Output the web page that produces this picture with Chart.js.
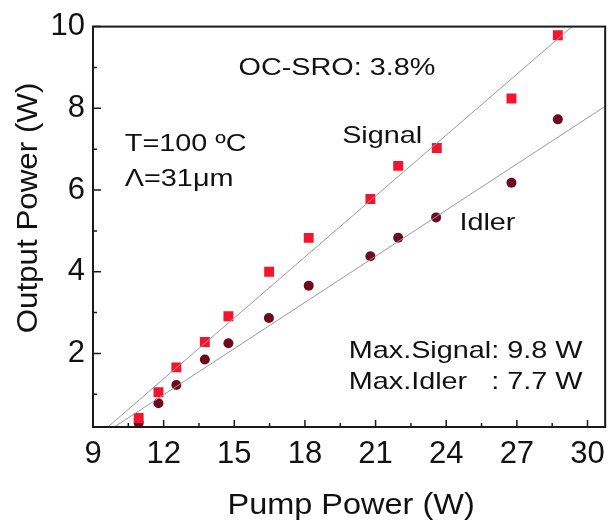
<!DOCTYPE html>
<html>
<head>
<meta charset="utf-8">
<script src="https://cdn.jsdelivr.net/npm/chart.js@4"></script>
<style>
  html, body { margin: 0; padding: 0; background: #fff; }
  #wrap { width: 614px; height: 528px; }
</style>
</head>
<body>
<div id="wrap"><canvas id="c" width="614" height="528"></canvas></div>
<script>
// values
const signalPump  = [10.94, 11.78, 12.54, 13.75, 14.75, 16.48, 18.16, 20.78, 21.96, 23.6, 26.77, 28.74];
const signalPower = [0.42, 1.05, 1.66, 2.28, 2.91, 4.0, 4.83, 5.78, 6.59, 7.03, 8.24, 9.79];
const idlerPump   = [10.94, 11.78, 12.54, 13.75, 14.75, 16.47, 18.16, 20.78, 21.96, 23.57, 26.77, 28.74];
const idlerPower  = [0.3, 0.78, 1.23, 1.85, 2.25, 2.87, 3.66, 4.38, 4.83, 5.33, 6.18, 7.73];

// linear fits (end points)
const signalFitPump  = [9.65, 29.34];
const signalFitPower = [0.21, 10];
const idlerFitPump   = [9.93, 30.75];
const idlerFitPower  = [0.21, 8.05];

const xTicks = [9, 10.5, 12, 13.5, 15, 16.5, 18, 19.5, 21, 22.5, 24, 25.5, 27, 28.5, 30];
const yTicks = [1, 2, 3, 4, 5, 6, 7, 8, 9, 10];

const xTitle = 'Pump Power (W)';
const yTitle = 'Output Power (W)';

const notes = [
  { text: 'OC-SRO: 3.8%', x: 19.36, y: 8.82, align: 'center' },
  { text: 'Signal', x: 21.28, y: 7.15, align: 'center' },
  { text: 'Idler', x: 25.75, y: 5.01, align: 'center' },
  { text: 'T=100 ºC', x: 10.35, y: 6.95, align: 'left' },
  { text: 'Λ=31μm', x: 10.35, y: 6.1, align: 'left' },
  { text: 'Max.Signal: 9.8 W', x: 19.86, y: 1.9, align: 'left' },
  { text: 'Max.Idler   : 7.7 W', x: 19.86, y: 1.14, align: 'left' }
];

const FONT = "'Liberation Sans', Arial, sans-serif";

function pts(xs, ys) {
  return xs.map((x, i) => ({ x: x, y: ys[i] }));
}

function stretchText(ctx, text, x, y, align, sx) {
  ctx.save();
  ctx.translate(x, y);
  ctx.scale(sx, 1);
  ctx.textAlign = align;
  ctx.fillText(text, 0, 0);
  ctx.restore();
}

const framePlugin = {
  id: 'frame',
  afterDraw(chart) {
    const ctx = chart.ctx;
    const a = chart.chartArea;
    const xs = chart.scales.x, ys = chart.scales.y;
    ctx.save();
    ctx.strokeStyle = '#1a1a1a';
    ctx.lineWidth = 1.5;
    ctx.beginPath();
    xs.ticks.forEach(t => {
      const px = xs.getPixelForValue(t.value);
      const len = t.value % 3 === 0 ? 7 : 4;
      ctx.moveTo(px, a.bottom);
      ctx.lineTo(px, a.bottom - len);
    });
    ys.ticks.forEach(t => {
      const py = ys.getPixelForValue(t.value);
      const len = t.value % 2 === 0 ? 8 : 4;
      ctx.moveTo(a.left, py);
      ctx.lineTo(a.left + len, py);
    });
    ctx.stroke();
    ctx.lineWidth = 2;
    ctx.strokeRect(a.left, a.top, a.right - a.left, a.bottom - a.top);

    ctx.fillStyle = '#111';
    ctx.textBaseline = 'alphabetic';

    // axis titles
    ctx.font = '29px ' + FONT;
    stretchText(ctx, xTitle, (a.left + a.right) / 2 + 2, 514, 'center', 1.12);
    ctx.save();
    ctx.translate(37, 208);
    ctx.rotate(-Math.PI / 2);
    stretchText(ctx, yTitle, 0, 0, 'center', 1.08);
    ctx.restore();

    // text notes
    ctx.font = '24px ' + FONT;
    notes.forEach(n => {
      stretchText(ctx, n.text, xs.getPixelForValue(n.x), ys.getPixelForValue(n.y), n.align, 1.2);
    });
    ctx.restore();
  }
};

new Chart(document.getElementById('c').getContext('2d'), {
  type: 'scatter',
  data: {
    datasets: [
      {
        label: 'Signal fit',
        type: 'line',
        data: pts(signalFitPump, signalFitPower),
        borderColor: '#9a9a9a',
        borderWidth: 1,
        pointRadius: 0,
        fill: false
      },
      {
        label: 'Idler fit',
        type: 'line',
        data: pts(idlerFitPump, idlerFitPower),
        borderColor: '#9a9a9a',
        borderWidth: 1,
        pointRadius: 0,
        fill: false
      },
      {
        label: 'Signal',
        data: pts(signalPump, signalPower),
        pointStyle: 'rect',
        pointRadius: 7,
        backgroundColor: '#f5132d',
        borderColor: '#f5132d',
        borderWidth: 0
      },
      {
        label: 'Idler',
        data: pts(idlerPump, idlerPower),
        pointStyle: 'circle',
        pointRadius: 5,
        backgroundColor: '#6e0a1c',
        borderColor: '#6e0a1c',
        borderWidth: 0
      }
    ]
  },
  options: {
    responsive: false,
    animation: false,
    layout: { padding: { top: 22, right: 2, left: 0, bottom: 0 } },
    plugins: { legend: { display: false }, tooltip: { enabled: false } },
    scales: {
      x: {
        type: 'linear',
        min: 9,
        max: 30.75,
        afterBuildTicks: s => { s.ticks = xTicks.map(v => ({ value: v })); },
        afterFit: s => { s.height = 101; },
        grid: { display: false, drawTicks: false },
        border: { display: false },
        ticks: {
          autoSkip: false,
          maxRotation: 0,
          padding: 9,
          color: '#111',
          font: { family: FONT, size: 31 },
          callback: v => (v % 3 === 0 ? String(v) : '')
        },
        title: { display: false }
      },
      y: {
        type: 'linear',
        min: 0.2,
        max: 10,
        afterBuildTicks: s => { s.ticks = yTicks.map(v => ({ value: v })); },
        afterFit: s => { s.width = 93; },
        grid: { display: false, drawTicks: false },
        border: { display: false },
        ticks: {
          autoSkip: false,
          padding: 8,
          color: '#111',
          font: { family: FONT, size: 31 },
          callback: v => (v % 2 === 0 ? String(v) : '')
        },
        title: { display: false }
      }
    }
  },
  plugins: [framePlugin]
});
</script>
</body>
</html>
